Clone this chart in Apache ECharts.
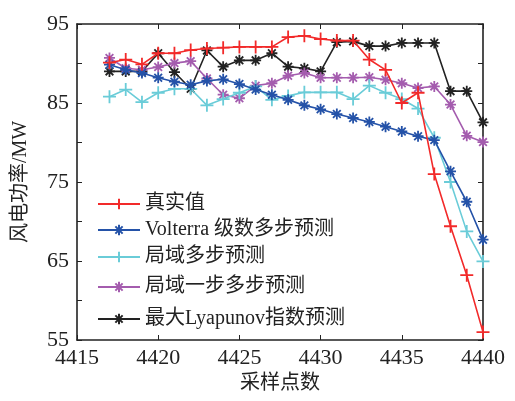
<!DOCTYPE html>
<html><head><meta charset="utf-8">
<script src="https://cdn.jsdelivr.net/npm/echarts@6/dist/echarts.min.js"></script>
<style>html,body{margin:0;padding:0;background:#fff}#c{width:515px;height:401px}</style>
</head><body><div id="c"></div>
<script>
var xValues = [4417,4418,4419,4420,4421,4422,4423,4424,4425,4426,4427,4428,4429,4430,4431,4432,4433,4434,4435,4436,4437,4438,4439,4440];
var seriesNames = ['真实值','Volterra 级数多步预测','局域多步预测','局域一步多步预测','最大Lyapunov指数预测'];
var actual   = [90.1,90.5,89.9,91.3,91.3,91.7,91.9,92.0,92.1,92.1,92.1,93.35,93.5,93.1,92.9,92.9,90.5,89.2,85.0,86.3,76.0,69.4,63.2,56.0];
var volterra = [89.85,89.2,88.8,88.2,87.7,87.3,87.8,88.0,87.4,86.7,86.05,85.4,84.7,84.2,83.6,83.1,82.6,82.0,81.4,80.8,80.3,76.35,72.5,67.7];
var localMulti = [85.8,86.7,85.1,86.3,86.8,86.8,84.7,85.5,86.3,87.1,85.4,85.9,86.35,86.35,86.35,85.5,87.2,86.3,85.5,84.3,80.6,75.0,68.75,64.95];
var localOneMulti = [90.7,89.4,89.2,89.55,90.05,90.3,88.1,86.05,85.6,87.2,87.5,88.45,88.8,88.2,88.2,88.2,88.25,87.95,87.5,86.9,87.1,84.8,80.85,80.05];
var lyapunov = [89.0,89.0,89.0,91.3,88.9,86.8,91.65,89.6,90.4,90.4,91.3,89.6,89.4,89.0,92.7,92.8,92.2,92.2,92.6,92.6,92.6,86.5,86.5,82.55];
var yTickLabels = [55,65,75,85,95];
var xTickLabels = [4415,4420,4425,4430,4435,4440];

var FONT = "'Liberation Serif','Noto Sans CJK SC',serif";
var colors = ['#f22a2a','#2452a8','#6accd8','#a45cae','#222222'];
var plus = 'path://M0,5L10,5M5,0L5,10';
var star = 'path://M0,5L10,5M5,0L5,10M1.5,1.5L8.5,8.5M1.5,8.5L8.5,1.5';
var symbols = [plus, star, plus, star, star];
var sizes = [13, 11, 13, 11, 11];
var datasets = [actual, volterra, localMulti, localOneMulti, lyapunov];

function pairs(arr){ return xValues.map(function(x,i){ return [x, arr[i]]; }); }

var series = datasets.map(function(d,i){
  return {
    name: seriesNames[i], type:'line', data: pairs(d),
    symbol: symbols[i], symbolSize: sizes[i],
    lineStyle:{color:colors[i], width:1.6},
    itemStyle:{color:colors[i], borderColor:colors[i], borderWidth:1.8},
    emphasis:{disabled:true}, animation:false, z: 10 - i
  };
});

var legendTops = [189, 215, 242, 272, 304];
var legends = seriesNames.map(function(n,i){
  return { data:[n], left: 92, top: legendTops[i], orient:'vertical',
    itemWidth: 42, itemHeight: 13, itemGap: 0,
    textStyle:{fontFamily:FONT, fontSize:20, color:'#222', padding:[0,0,0,0]} };
});

var axisCommon = {
  axisLine:{show:true, lineStyle:{color:'#222', width:1.6}},
  axisTick:{show:true, inside:true, length:5, lineStyle:{color:'#222', width:1}},
  splitLine:{show:false}
};

var option = {
  animation:false,
  color: colors,
  grid:{left:77, right:32, top:24, bottom:61, containLabel:false},
  legend: legends,
  xAxis:[
    Object.assign({type:'value', min:4415, max:4440, interval:5, position:'bottom',
      name:'采样点数', nameLocation:'middle', nameGap:33,
      nameTextStyle:{fontFamily:FONT, fontSize:20, color:'#222'},
      axisLabel:{fontFamily:FONT, fontSize:22, color:'#222', margin:7,
        formatter:function(v){ return xTickLabels.indexOf(v)>=0 ? String(v) : ''; }}}, axisCommon),
    Object.assign({type:'value', min:4415, max:4440, interval:5, position:'top',
      axisLabel:{show:false}}, axisCommon)
  ],
  yAxis:[
    Object.assign({type:'value', min:55, max:95, interval:5, position:'left',
      name:'风电功率/MW', nameLocation:'middle', nameGap:46, nameRotate:90,
      nameTextStyle:{fontFamily:FONT, fontSize:20, color:'#222'},
      axisLabel:{fontFamily:FONT, fontSize:22, color:'#222', margin:8,
        formatter:function(v){ return yTickLabels.indexOf(v)>=0 ? String(v) : ''; }}}, axisCommon),
    Object.assign({type:'value', min:55, max:95, interval:5, position:'right',
      axisLabel:{show:false}}, axisCommon)
  ],
  series: series
};
var chart = echarts.init(document.getElementById('c'), null, {renderer:'canvas'});
chart.setOption(option);
</script></body></html>
